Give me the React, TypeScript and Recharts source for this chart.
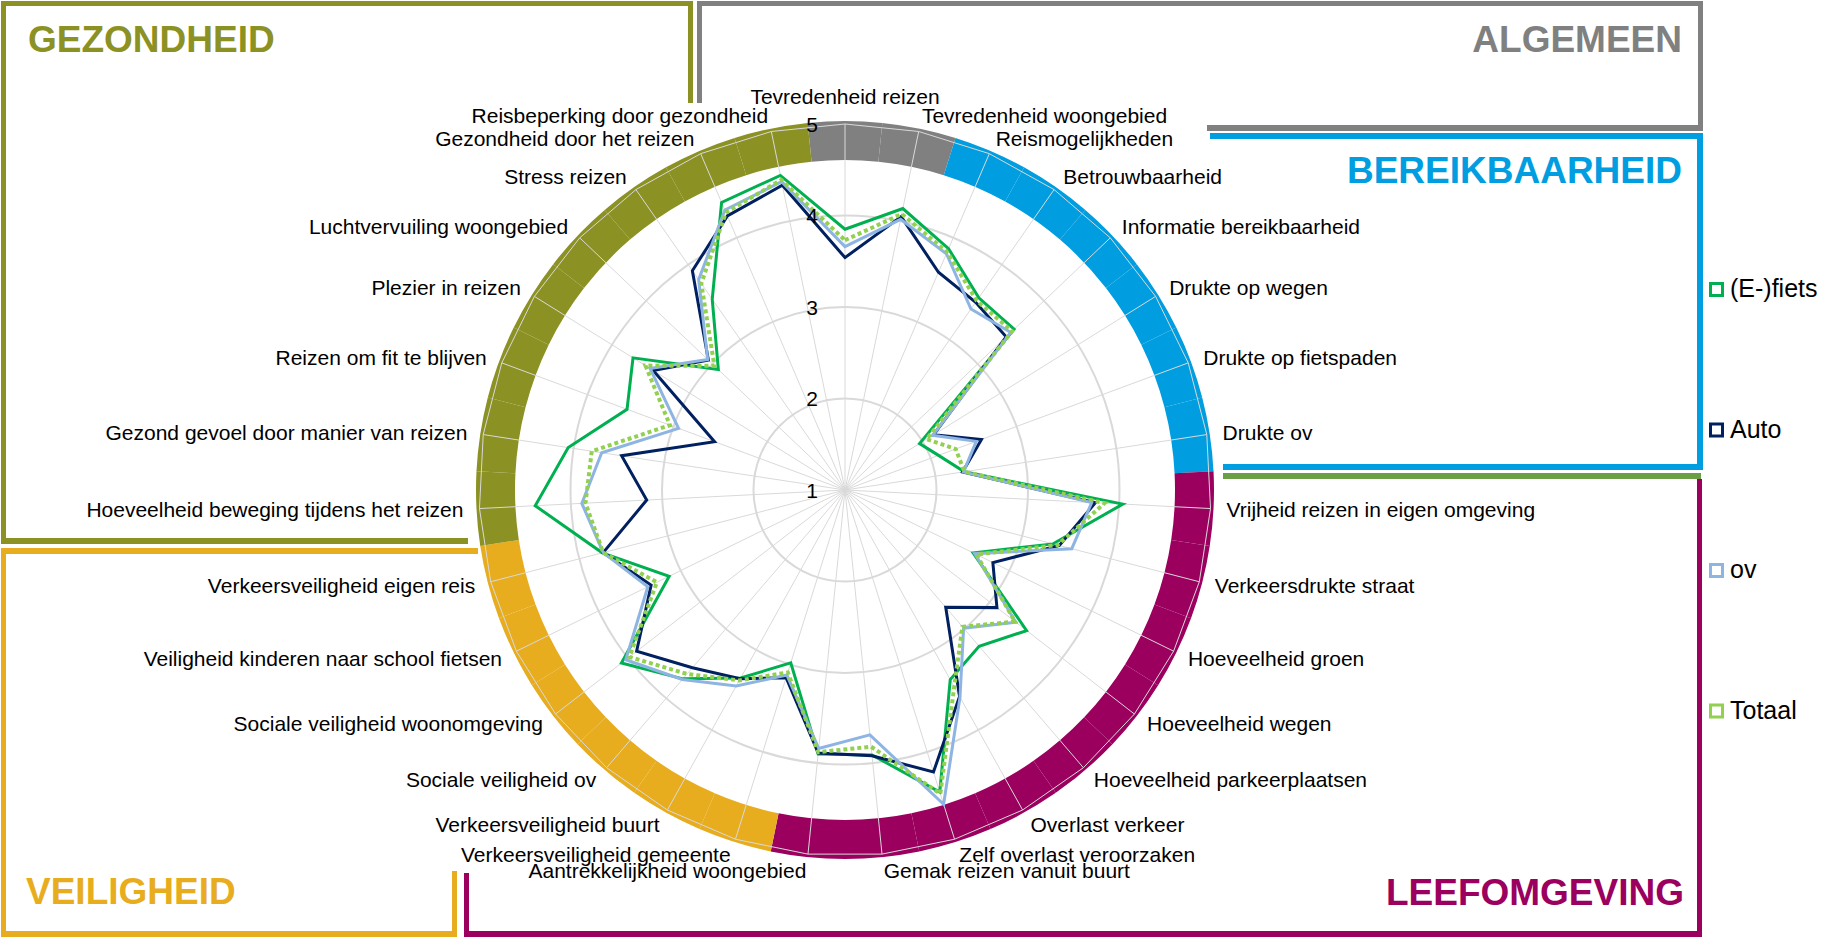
import { RadarChart, Radar, PolarGrid, PolarAngleAxis, PolarRadiusAxis, PieChart, Pie, Cell } from 'recharts';

// categories clockwise from the top
const categories = [
  'Tevredenheid reizen', 'Tevredenheid woongebied',
  'Reismogelijkheden', 'Betrouwbaarheid', 'Informatie bereikbaarheid', 'Drukte op wegen', 'Drukte op fietspaden', 'Drukte ov',
  'Vrijheid reizen in eigen omgeving', 'Verkeersdrukte straat', 'Hoeveelheid groen', 'Hoeveelheid wegen',
  'Hoeveelheid parkeerplaatsen', 'Overlast verkeer', 'Zelf overlast veroorzaken', 'Gemak reizen vanuit buurt',
  'Aantrekkelijkheid woongebied',
  'Verkeersveiligheid gemeente', 'Verkeersveiligheid buurt', 'Sociale veiligheid ov', 'Sociale veiligheid woonomgeving',
  'Veiligheid kinderen naar school fietsen', 'Verkeersveiligheid eigen reis',
  'Hoeveelheid beweging tijdens het reizen', 'Gezond gevoel door manier van reizen', 'Reizen om fit te blijven',
  'Plezier in reizen', 'Luchtvervuiling woongebied', 'Stress reizen', 'Gezondheid door het reizen',
  'Reisbeperking door gezondheid',
];

const groupNames = ['ALGEMEEN', 'BEREIKBAARHEID', 'LEEFOMGEVING', 'VEILIGHEID', 'GEZONDHEID'];
const groupSizes = [2, 6, 9, 6, 8];

const fiets = [3.85, 4.14, 3.87, 3.56, 3.55, 1.96, 2.09, 2.32, 4.04, 3.35, 2.56, 3.51, 3.25, 3.37, 4.46, 3.91,
  3.90, 2.98, 3.35, 3.72, 4.09, 3.14, 3.74, 4.39, 4.06, 3.54, 3.73, 2.91, 3.54, 4.42, 4.51];
const auto = [3.54, 4.05, 3.59, 3.50, 3.43, 2.14, 2.59, 2.30, 3.74, 3.42, 2.80, 3.10, 2.69, 3.58, 4.23, 3.92,
  3.89, 3.15, 3.36, 3.56, 3.88, 3.36, 3.73, 3.17, 3.47, 2.52, 3.47, 3.06, 3.92, 4.26, 4.40];
const ov = [3.66, 4.02, 3.81, 3.41, 3.50, 2.13, 2.53, 2.31, 3.70, 3.56, 2.58, 3.36, 2.99, 3.59, 4.60, 3.69,
  3.84, 3.12, 3.45, 3.73, 4.03, 3.40, 3.73, 3.88, 3.69, 2.94, 3.51, 3.07, 3.80, 4.33, 4.44];
const totaal = [3.73, 4.08, 3.83, 3.52, 3.52, 2.05, 2.29, 2.32, 3.84, 3.40, 2.60, 3.35, 2.97, 3.46, 4.48, 3.82,
  3.88, 3.09, 3.38, 3.65, 3.98, 3.29, 3.73, 3.84, 3.80, 3.04, 3.57, 2.97, 3.75, 4.30, 4.46];

const radiusTicks = [1, 2, 3, 4, 5];

const series = [
  { key: 'fiets', name: '(E-)fiets', color: '#00B050', dash: undefined as string | undefined },
  { key: 'auto', name: 'Auto', color: '#002060', dash: undefined },
  { key: 'ov', name: 'ov', color: '#8DB4E2', dash: undefined },
  { key: 'totaal', name: 'Totaal', color: '#92D050', dash: '4 3' },
];

const GROUP_COLORS: Record<string, string> = {
  ALGEMEEN: '#808080',
  BEREIKBAARHEID: '#009EE0',
  LEEFOMGEVING: '#9B005F',
  VEILIGHEID: '#E7AD1F',
  GEZONDHEID: '#8C9123',
};

const W = 1833;
const H = 938;
const CX = 845;
const CY = 490;
const R_OUT = 366;
const UNIT = R_OUT / 4;
const LABEL_R = 382;
const FONT = '"Liberation Sans", Arial, sans-serif';

const data = categories.map((c, i) => ({ cat: c, fiets: fiets[i], auto: auto[i], ov: ov[i], totaal: totaal[i] }));

const ringColors: string[] = groupNames.flatMap((g, gi) => Array(groupSizes[gi]).fill(GROUP_COLORS[g]));
const ringData = categories.map((c) => ({ name: c, value: 1 }));
const halfStep = 180 / categories.length;

// eslint-disable-next-line @typescript-eslint/no-explicit-any
function AngleTick(props: any) {
  const { payload } = props;
  const a = (-payload.coordinate * Math.PI) / 180;
  const x = CX + LABEL_R * Math.cos(a);
  let y = CY + LABEL_R * Math.sin(a);
  const c = Math.cos(a);
  const anchor = Math.abs(c) < 0.01 ? 'middle' : c > 0 ? 'start' : 'end';
  if (anchor === 'middle' && Math.sin(a) < 0) y -= 12;
  return (
    <text x={x} y={y} textAnchor={anchor} dominantBaseline="central" fontSize={21} fontFamily={FONT} fill="#000">
      {payload.value}
    </text>
  );
}

// eslint-disable-next-line @typescript-eslint/no-explicit-any
function RadiusTick(props: any) {
  const { x, y, payload } = props;
  return (
    <text x={x - 27} y={y} textAnchor="end" dominantBaseline="central" fontSize={21} fontFamily={FONT} fill="#000">
      {payload.value}
    </text>
  );
}

// frame segments around the chart: [x, y, w, h, color]
const frames: [number, number, number, number, string][] = [
  [1, 1, 692, 5, GROUP_COLORS.GEZONDHEID],
  [1, 1, 5, 543, GROUP_COLORS.GEZONDHEID],
  [688, 1, 5, 102, GROUP_COLORS.GEZONDHEID],
  [1, 538, 467, 6, GROUP_COLORS.GEZONDHEID],

  [697, 1, 5, 102, GROUP_COLORS.ALGEMEEN],
  [697, 1, 1006, 5, GROUP_COLORS.ALGEMEEN],
  [1698, 1, 5, 130, GROUP_COLORS.ALGEMEEN],
  [1207, 125, 1496, 6, GROUP_COLORS.ALGEMEEN].map((v, i) => (i === 2 ? 496 : v)) as [number, number, number, number, string],

  [1210, 133, 493, 6, GROUP_COLORS.BEREIKBAARHEID],
  [1697, 133, 6, 337, GROUP_COLORS.BEREIKBAARHEID],
  [1223, 464, 480, 6, GROUP_COLORS.BEREIKBAARHEID],

  [1223, 473, 478, 6, '#6A9F45'],

  [1697, 479, 5, 458, GROUP_COLORS.LEEFOMGEVING],
  [464, 931, 1238, 6, GROUP_COLORS.LEEFOMGEVING],
  [464, 873, 5, 64, GROUP_COLORS.LEEFOMGEVING],

  [1, 548, 477, 6, GROUP_COLORS.VEILIGHEID],
  [1, 548, 5, 389, GROUP_COLORS.VEILIGHEID],
  [1, 931, 456, 6, GROUP_COLORS.VEILIGHEID],
  [452, 871, 5, 66, GROUP_COLORS.VEILIGHEID],
];

const titles = [
  { text: 'GEZONDHEID', x: 28, y: 52, anchor: 'start' },
  { text: 'ALGEMEEN', x: 1682, y: 52, anchor: 'end' },
  { text: 'BEREIKBAARHEID', x: 1682, y: 183, anchor: 'end' },
  { text: 'VEILIGHEID', x: 26, y: 904, anchor: 'start' },
  { text: 'LEEFOMGEVING', x: 1684, y: 905, anchor: 'end' },
];
const titleColors = [GROUP_COLORS.GEZONDHEID, GROUP_COLORS.ALGEMEEN, GROUP_COLORS.BEREIKBAARHEID, GROUP_COLORS.VEILIGHEID, GROUP_COLORS.LEEFOMGEVING];

const legendTop = 282;
const legendGap = 140.5;

export default function App() {
  return (
    <div style={{ position: 'absolute', left: 0, top: 0, width: W, height: H, background: '#fff', overflow: 'hidden' }}>
      <svg width={W} height={H} style={{ position: 'absolute', left: 0, top: 0 }}>
        {frames.map(([x, y, w, h, c], i) => (
          <rect key={i} x={x} y={y} width={w} height={h} fill={c} />
        ))}
        {titles.map((t, i) => (
          <text key={t.text} x={t.x} y={t.y} textAnchor={t.anchor as 'start' | 'end'} fontSize={37} fontWeight="bold"
            fontFamily={FONT} fill={titleColors[i]}>
            {t.text}
          </text>
        ))}
        {series.map((s, i) => (
          <g key={s.key}>
            <rect x={1710.5} y={legendTop + i * legendGap + 1.5} width={12} height={12} fill="#fff" stroke={s.color} strokeWidth={3} />
            <text x={1730} y={legendTop + i * legendGap + 15} fontSize={25} fontFamily={FONT} fill="#000">{s.name}</text>
          </g>
        ))}
      </svg>

      <div style={{ position: 'absolute', left: 0, top: 0 }}>
        <PieChart width={W} height={H} margin={{ top: 0, right: 0, bottom: 0, left: 0 }}>
          <Pie
            data={ringData}
            dataKey="value"
            cx={CX}
            cy={CY}
            innerRadius={330}
            outerRadius={369}
            startAngle={90 + halfStep}
            endAngle={90 + halfStep - 360}
            stroke="none"
            isAnimationActive={false}
          >
            {ringData.map((d, i) => (
              <Cell key={d.name} fill={ringColors[i]} />
            ))}
          </Pie>
        </PieChart>
      </div>

      <div style={{ position: 'absolute', left: 0, top: 0 }}>
        <RadarChart width={W} height={H} data={data} cx={CX} cy={CY} outerRadius={R_OUT}
          margin={{ top: 0, right: 0, bottom: 0, left: 0 }}>
          <PolarGrid gridType="circle" polarRadius={[UNIT, UNIT * 2, UNIT * 3]} stroke="#D9D9D9" strokeWidth={2} radialLines={false} />
          <PolarGrid gridType="polygon" polarRadius={[R_OUT]} stroke="#D9D9D9" strokeWidth={1} />
          <PolarAngleAxis dataKey="cat" tick={(p: unknown) => <AngleTick {...(p as object)} />} axisLine={false} tickLine={false} />
          {series.map((s) => (
            <Radar
              key={s.key}
              dataKey={s.key}
              name={s.name}
              stroke={s.color}
              strokeWidth={s.dash ? 4 : 3}
              strokeDasharray={s.dash}
              fill="none"
              fillOpacity={0}
              dot={false}
              isAnimationActive={false}
            />
          ))}
          <PolarRadiusAxis angle={90} domain={[1, 5]} ticks={radiusTicks as never} tickCount={5} axisLine={false} tickLine={false}
            tick={(p: unknown) => <RadiusTick {...(p as object)} />} />
        </RadarChart>
      </div>
    </div>
  );
}
